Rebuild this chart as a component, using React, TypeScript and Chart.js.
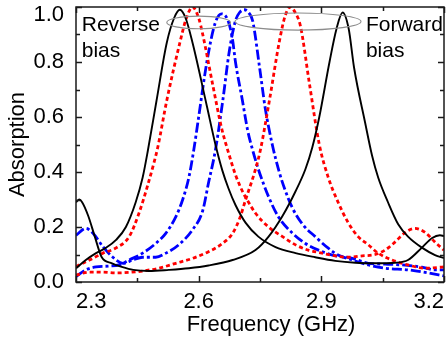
import React, { useEffect, useRef } from 'react';
import { Chart, registerables } from 'chart.js';

Chart.register(...registerables);

// ---- axis ticks ----
const xTickValues = [2.3, 2.6, 2.9, 3.2];
const xMinorValues = [2.45, 2.75, 3.05];
const yTickValues = [0, 0.2, 0.4, 0.6, 0.8, 1.0];
const yMinorValues = [0.1, 0.3, 0.5, 0.7, 0.9];

// ---- series (frequency in GHz, absorption) ----
const black1Freq = [2.300, 2.324, 2.349, 2.373, 2.398, 2.422, 2.446, 2.463, 2.476, 2.497, 2.522, 2.540, 2.554, 2.568, 2.585, 2.620, 2.641, 2.658, 2.673, 2.690, 2.715, 2.746, 2.788, 2.837, 2.885, 2.934, 2.983, 3.032, 3.080, 3.112, 3.146, 3.171, 3.190, 3.200];
const black1Abs = [0.050, 0.080, 0.105, 0.124, 0.153, 0.200, 0.290, 0.380, 0.480, 0.660, 0.870, 0.960, 0.990, 0.960, 0.870, 0.640, 0.500, 0.405, 0.340, 0.280, 0.215, 0.165, 0.127, 0.105, 0.090, 0.077, 0.070, 0.068, 0.070, 0.080, 0.125, 0.160, 0.170, 0.167];

const black2Freq = [2.300, 2.308, 2.315, 2.330, 2.346, 2.363, 2.388, 2.412, 2.440, 2.478, 2.527, 2.576, 2.624, 2.683, 2.739, 2.771, 2.805, 2.837, 2.861, 2.878, 2.895, 2.920, 2.937, 2.952, 2.967, 2.980, 3.007, 3.024, 3.039, 3.063, 3.088, 3.112, 3.146, 3.178, 3.200];
const black2Abs = [0.290, 0.300, 0.290, 0.240, 0.165, 0.090, 0.068, 0.055, 0.044, 0.040, 0.044, 0.050, 0.060, 0.080, 0.116, 0.165, 0.240, 0.330, 0.410, 0.490, 0.600, 0.800, 0.920, 0.980, 0.920, 0.780, 0.580, 0.460, 0.380, 0.290, 0.210, 0.165, 0.125, 0.098, 0.087];

const red1Freq = [2.300, 2.333, 2.366, 2.398, 2.430, 2.454, 2.475, 2.490, 2.500, 2.522, 2.554, 2.570, 2.585, 2.600, 2.610, 2.634, 2.656, 2.673, 2.690, 2.707, 2.722, 2.739, 2.771, 2.805, 2.837, 2.868, 2.902, 2.934, 2.966, 3.000, 3.032, 3.056, 3.080, 3.105, 3.129, 3.154, 3.178, 3.200];
const red1Abs = [0.056, 0.080, 0.105, 0.124, 0.165, 0.250, 0.350, 0.430, 0.490, 0.660, 0.870, 0.960, 1.000, 0.960, 0.900, 0.720, 0.560, 0.470, 0.390, 0.330, 0.290, 0.250, 0.200, 0.165, 0.135, 0.116, 0.105, 0.095, 0.090, 0.095, 0.100, 0.116, 0.145, 0.180, 0.195, 0.180, 0.145, 0.116];

const red2Freq = [2.300, 2.333, 2.366, 2.398, 2.430, 2.463, 2.502, 2.544, 2.585, 2.624, 2.658, 2.683, 2.700, 2.715, 2.739, 2.751, 2.773, 2.798, 2.812, 2.824, 2.836, 2.849, 2.871, 2.895, 2.917, 2.941, 2.966, 2.990, 3.015, 3.039, 3.073, 3.112, 3.154, 3.200];
const red2Abs = [0.025, 0.036, 0.036, 0.033, 0.035, 0.040, 0.050, 0.068, 0.086, 0.110, 0.140, 0.177, 0.230, 0.300, 0.410, 0.480, 0.660, 0.880, 0.970, 1.000, 0.980, 0.930, 0.720, 0.500, 0.380, 0.290, 0.215, 0.165, 0.135, 0.105, 0.080, 0.062, 0.050, 0.055];

const blue1Freq = [2.300, 2.324, 2.349, 2.381, 2.405, 2.430, 2.463, 2.495, 2.520, 2.544, 2.561, 2.576, 2.588, 2.600, 2.620, 2.640, 2.656, 2.672, 2.683, 2.690, 2.707, 2.720, 2.732, 2.746, 2.771, 2.795, 2.829, 2.861, 2.893, 2.927, 2.976, 3.015, 3.056, 3.097, 3.146, 3.178, 3.200];
const blue1Abs = [0.020, 0.044, 0.055, 0.058, 0.062, 0.080, 0.105, 0.140, 0.178, 0.237, 0.300, 0.380, 0.480, 0.600, 0.800, 0.940, 0.975, 0.950, 0.880, 0.800, 0.660, 0.550, 0.480, 0.410, 0.310, 0.237, 0.178, 0.140, 0.116, 0.098, 0.086, 0.068, 0.065, 0.062, 0.054, 0.044, 0.044];

const blue2Freq = [2.300, 2.324, 2.341, 2.366, 2.390, 2.415, 2.439, 2.463, 2.495, 2.520, 2.551, 2.585, 2.610, 2.624, 2.641, 2.659, 2.675, 2.690, 2.700, 2.712, 2.722, 2.732, 2.749, 2.763, 2.780, 2.797, 2.810, 2.829, 2.854, 2.885, 2.917, 2.941, 2.976, 3.015, 3.056, 3.112, 3.161, 3.200];
const blue2Abs = [0.170, 0.195, 0.178, 0.128, 0.090, 0.068, 0.080, 0.090, 0.090, 0.105, 0.135, 0.190, 0.260, 0.360, 0.480, 0.660, 0.840, 0.950, 0.980, 0.990, 0.980, 0.950, 0.780, 0.630, 0.500, 0.400, 0.340, 0.270, 0.210, 0.165, 0.123, 0.098, 0.080, 0.062, 0.050, 0.044, 0.033, 0.022];

// ---- annotations (anchored in data coordinates) ----
const noteLines = [['Reverse', 'bias'], ['Forward', 'bias']];
const noteFreq = [2.314, 3.009];
const noteAbs = [0.913, 0.913];
const ellipseFreq = [2.600, 2.843];
const ellipseAbs = [0.944, 0.947];
const ellipseHalfFreq = [0.078, 0.154];
const ellipseHalfAbs = [0.023, 0.031];

const FONT = '"Liberation Sans", Arial, Helvetica, sans-serif';

function zip(xs: number[], ys: number[]) {
  const n = Math.min(xs.length, ys.length);
  const out: { x: number; y: number }[] = [];
  for (let i = 0; i < n; i++) out.push({ x: xs[i], y: ys[i] });
  return out;
}

const framePlugin = {
  id: 'frameTicksNotes',
  afterDraw(chart: any) {
    const { ctx, chartArea: a, scales } = chart;
    const xs = scales.x;
    const ys = scales.y;
    ctx.save();
    ctx.strokeStyle = '#1a1a1a';
    ctx.lineWidth = 1.5;
    ctx.strokeRect(a.left, a.top, a.right - a.left, a.bottom - a.top);
    ctx.beginPath();
    const xt = (vals: number[], len: number) => {
      vals.forEach((v) => {
        const p = Math.round(xs.getPixelForValue(v)) + 0.5;
        ctx.moveTo(p, a.bottom);
        ctx.lineTo(p, a.bottom - len);
        ctx.moveTo(p, a.top);
        ctx.lineTo(p, a.top + len);
      });
    };
    const yt = (vals: number[], len: number) => {
      vals.forEach((v) => {
        const p = Math.round(ys.getPixelForValue(v)) + 0.5;
        ctx.moveTo(a.left, p);
        ctx.lineTo(a.left + len, p);
        ctx.moveTo(a.right, p);
        ctx.lineTo(a.right - len, p);
      });
    };
    xt(xTickValues, 6);
    xt(xMinorValues, 4);
    yt(yTickValues, 6);
    yt(yMinorValues, 4);
    ctx.stroke();

    ctx.strokeStyle = '#8c8c8c';
    ctx.lineWidth = 1.1;
    for (let i = 0; i < ellipseFreq.length; i++) {
      const cx = xs.getPixelForValue(ellipseFreq[i]);
      const cy = ys.getPixelForValue(ellipseAbs[i]);
      const rx = Math.abs(xs.getPixelForValue(ellipseFreq[i] + ellipseHalfFreq[i]) - cx);
      const ry = Math.abs(ys.getPixelForValue(ellipseAbs[i] + ellipseHalfAbs[i]) - cy);
      ctx.beginPath();
      ctx.ellipse(cx, cy, rx, ry, 0, 0, Math.PI * 2);
      ctx.stroke();
    }

    ctx.fillStyle = '#000';
    ctx.font = `21px ${FONT}`;
    ctx.textAlign = 'left';
    ctx.textBaseline = 'alphabetic';
    for (let i = 0; i < noteLines.length; i++) {
      const x = xs.getPixelForValue(noteFreq[i]);
      const y = ys.getPixelForValue(noteAbs[i]);
      noteLines[i].forEach((t, j) => ctx.fillText(t, x, y + j * 26));
    }
    ctx.restore();
  },
};

export default function App() {
  const ref = useRef<HTMLCanvasElement | null>(null);

  useEffect(() => {
    document.body.style.margin = '0';
    const canvas = ref.current;
    if (!canvas) return;

    const mk = (label: string, xs: number[], ys: number[], color: string, width: number, dash: number[]) => ({
      label,
      data: zip(xs, ys),
      borderColor: color,
      backgroundColor: color,
      borderWidth: width,
      borderDash: dash,
      borderCapStyle: 'butt' as const,
      pointRadius: 0,
      fill: false,
      cubicInterpolationMode: 'monotone' as const,
    });

    const chart = new Chart(canvas, {
      type: 'line',
      data: {
        datasets: [
          mk('Black 1', black1Freq, black1Abs, '#000000', 1.9, []),
          mk('Black 2', black2Freq, black2Abs, '#000000', 1.9, []),
          mk('Red 1', red1Freq, red1Abs, '#ff0000', 2.8, [4, 3]),
          mk('Red 2', red2Freq, red2Abs, '#ff0000', 2.8, [4, 3]),
          mk('Blue 1', blue1Freq, blue1Abs, '#0000ff', 2.8, [10, 3, 3, 3]),
          mk('Blue 2', blue2Freq, blue2Abs, '#0000ff', 2.8, [10, 3, 3, 3]),
        ],
      },
      options: {
        responsive: false,
        animation: false,
        layout: { padding: { top: 7, right: 2, left: 0, bottom: 0 } },
        plugins: {
          legend: { display: false },
          tooltip: { enabled: false },
        },
        scales: {
          x: {
            type: 'linear',
            min: 2.3,
            max: 3.2,
            grid: { display: false },
            border: { display: false },
            afterBuildTicks: (s: any) => {
              s.ticks = xTickValues.map((v) => ({ value: v }));
            },
            afterFit: (s: any) => {
              s.height = 62;
              s.paddingLeft = 0;
              s.paddingRight = 0;
            },
            ticks: {
              align: 'inner',
              autoSkip: false,
              maxRotation: 0,
              padding: -1,
              color: '#000',
              font: { family: FONT, size: 22 },
              callback: (v: any) => Number(v).toFixed(1),
            },
            title: {
              display: true,
              text: '\u2002\u2002Frequency (GHz)',
              color: '#000',
              font: { family: FONT, size: 22 },
              padding: { top: 0, bottom: 6 },
            },
          },
          y: {
            type: 'linear',
            min: 0,
            max: 1.0,
            grid: { display: false },
            border: { display: false },
            afterBuildTicks: (s: any) => {
              s.ticks = yTickValues.map((v) => ({ value: v }));
            },
            afterFit: (s: any) => {
              s.width = 76;
              s.paddingTop = 0;
              s.paddingBottom = 0;
            },
            ticks: {
              padding: 4,
              color: '#000',
              font: { family: FONT, size: 22, lineHeight: '16px' },
              callback: (v: any) => {
                const n = Number(v);
                return n >= 0.999 ? ['', n.toFixed(1)] : n.toFixed(1);
              },
            },
            title: {
              display: true,
              text: 'Absorption',
              color: '#000',
              font: { family: FONT, size: 22 },
              padding: { top: 5, bottom: 0 },
            },
          },
        },
      },
      plugins: [framePlugin],
    });

    return () => chart.destroy();
  }, []);

  return (
    <div style={{ width: 446, height: 344, overflow: 'hidden' }}>
      <canvas ref={ref} width={446} height={344} style={{ display: 'block' }} />
    </div>
  );
}
